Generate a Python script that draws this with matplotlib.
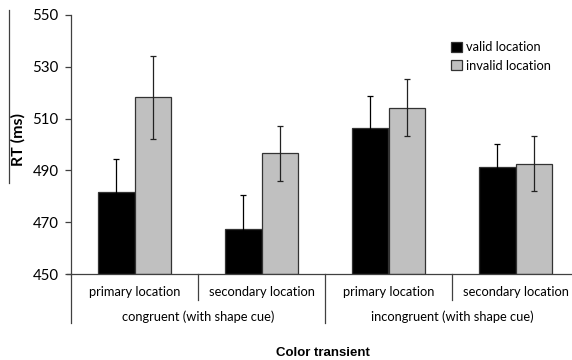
import matplotlib.pyplot as plt
import matplotlib.transforms as mtransforms
import numpy as np

# data
categories = ['primary location', 'secondary location', 'primary location', 'secondary location']
groups = ['congruent (with shape cue)', 'incongruent (with shape cue)']
valid_rt = [481.7, 467.4, 506.2, 491.4]
valid_err = [12.7, 13.1, 12.4, 8.8]
invalid_rt = [518.2, 496.6, 514.2, 492.6]
invalid_err = [15.9, 10.5, 11.0, 10.6]
yticks = [450, 470, 490, 510, 530, 550]

plt.rcParams['font.family'] = ['Lato', 'DejaVu Sans']

fig = plt.figure(figsize=(5.72, 3.6), dpi=100)
ax = fig.add_axes([71 / 572, 86 / 360, 508 / 572, 259 / 360])

x = np.arange(len(categories))
w = 0.285
ecol = '#333333'
ax.bar(x - w / 2, np.array(valid_rt) - 450, w, bottom=450, color='black',
       edgecolor=ecol, linewidth=0.9, label='valid location')
ax.bar(x + w / 2, np.array(invalid_rt) - 450, w, bottom=450, color='#c0c0c0',
       edgecolor=ecol, linewidth=0.9, label='invalid location')
# whiskers in black so they vanish inside the black bars
ax.errorbar(x - w / 2, valid_rt, yerr=valid_err, fmt='none', ecolor='black',
            elinewidth=0.9, capsize=2, capthick=0.9)
ax.errorbar(x + w / 2, invalid_rt, yerr=invalid_err, fmt='none', ecolor='#222222',
            elinewidth=0.9, capsize=2, capthick=0.9)

ax.set_xlim(-0.5, 3.5)
ax.set_ylim(450, 550)
ax.set_yticks(yticks)
ax.tick_params(axis='y', direction='out', length=4, width=0.9, color='#404040',
               labelsize=10.8, pad=5)
ax.set_xticks([])
for s in ['top', 'right']:
    ax.spines[s].set_visible(False)
for s in ['left', 'bottom']:
    ax.spines[s].set_color('#404040')
    ax.spines[s].set_linewidth(0.9)

# category / group labels below the axis
trans = mtransforms.blended_transform_factory(ax.transData, ax.transAxes)
for i, c in enumerate(categories):
    ax.text(i, -0.07, c, transform=trans, ha='center', va='center', fontsize=9.3)
for j, g in enumerate(groups):
    ax.text(2 * j + 0.5, -0.165, g, transform=trans, ha='center', va='center', fontsize=9.3)
ax.plot([-0.5, -0.5], [0, -0.189], transform=trans, color='#404040', lw=0.9, clip_on=False)
ax.plot([1.5, 1.5], [0, -0.189], transform=trans, color='#404040', lw=0.9, clip_on=False)
ax.plot([0.5, 0.5], [0, -0.1], transform=trans, color='#404040', lw=0.9, clip_on=False)
ax.plot([2.5, 2.5], [0, -0.1], transform=trans, color='#404040', lw=0.9, clip_on=False)
ax.plot([-0.53, -0.5], [0, 0], transform=trans, color='#404040', lw=0.9, clip_on=False)

fig.text(18 / 572, 1 - 139 / 360, 'RT (ms)', rotation=90, ha='center', va='center',
         fontsize=11.5, fontweight='bold')
fig.text(323 / 572, 1 - 353 / 360, 'Color transient', ha='center', va='center',
         fontsize=9.5, fontweight='bold', family='Liberation Sans')
fig.add_artist(plt.Line2D([9 / 572, 9 / 572], [1 - 10 / 360, 1 - 183 / 360],
                          color='#404040', lw=0.9))

ax.legend(loc='upper left', bbox_to_anchor=(374 / 508, 1 - 20 / 259), frameon=False,
          fontsize=9.3, handlelength=0.8, handleheight=0.8, handletextpad=0.3,
          labelspacing=0.5, borderpad=0)

fig.savefig('out.png', dpi=100)
